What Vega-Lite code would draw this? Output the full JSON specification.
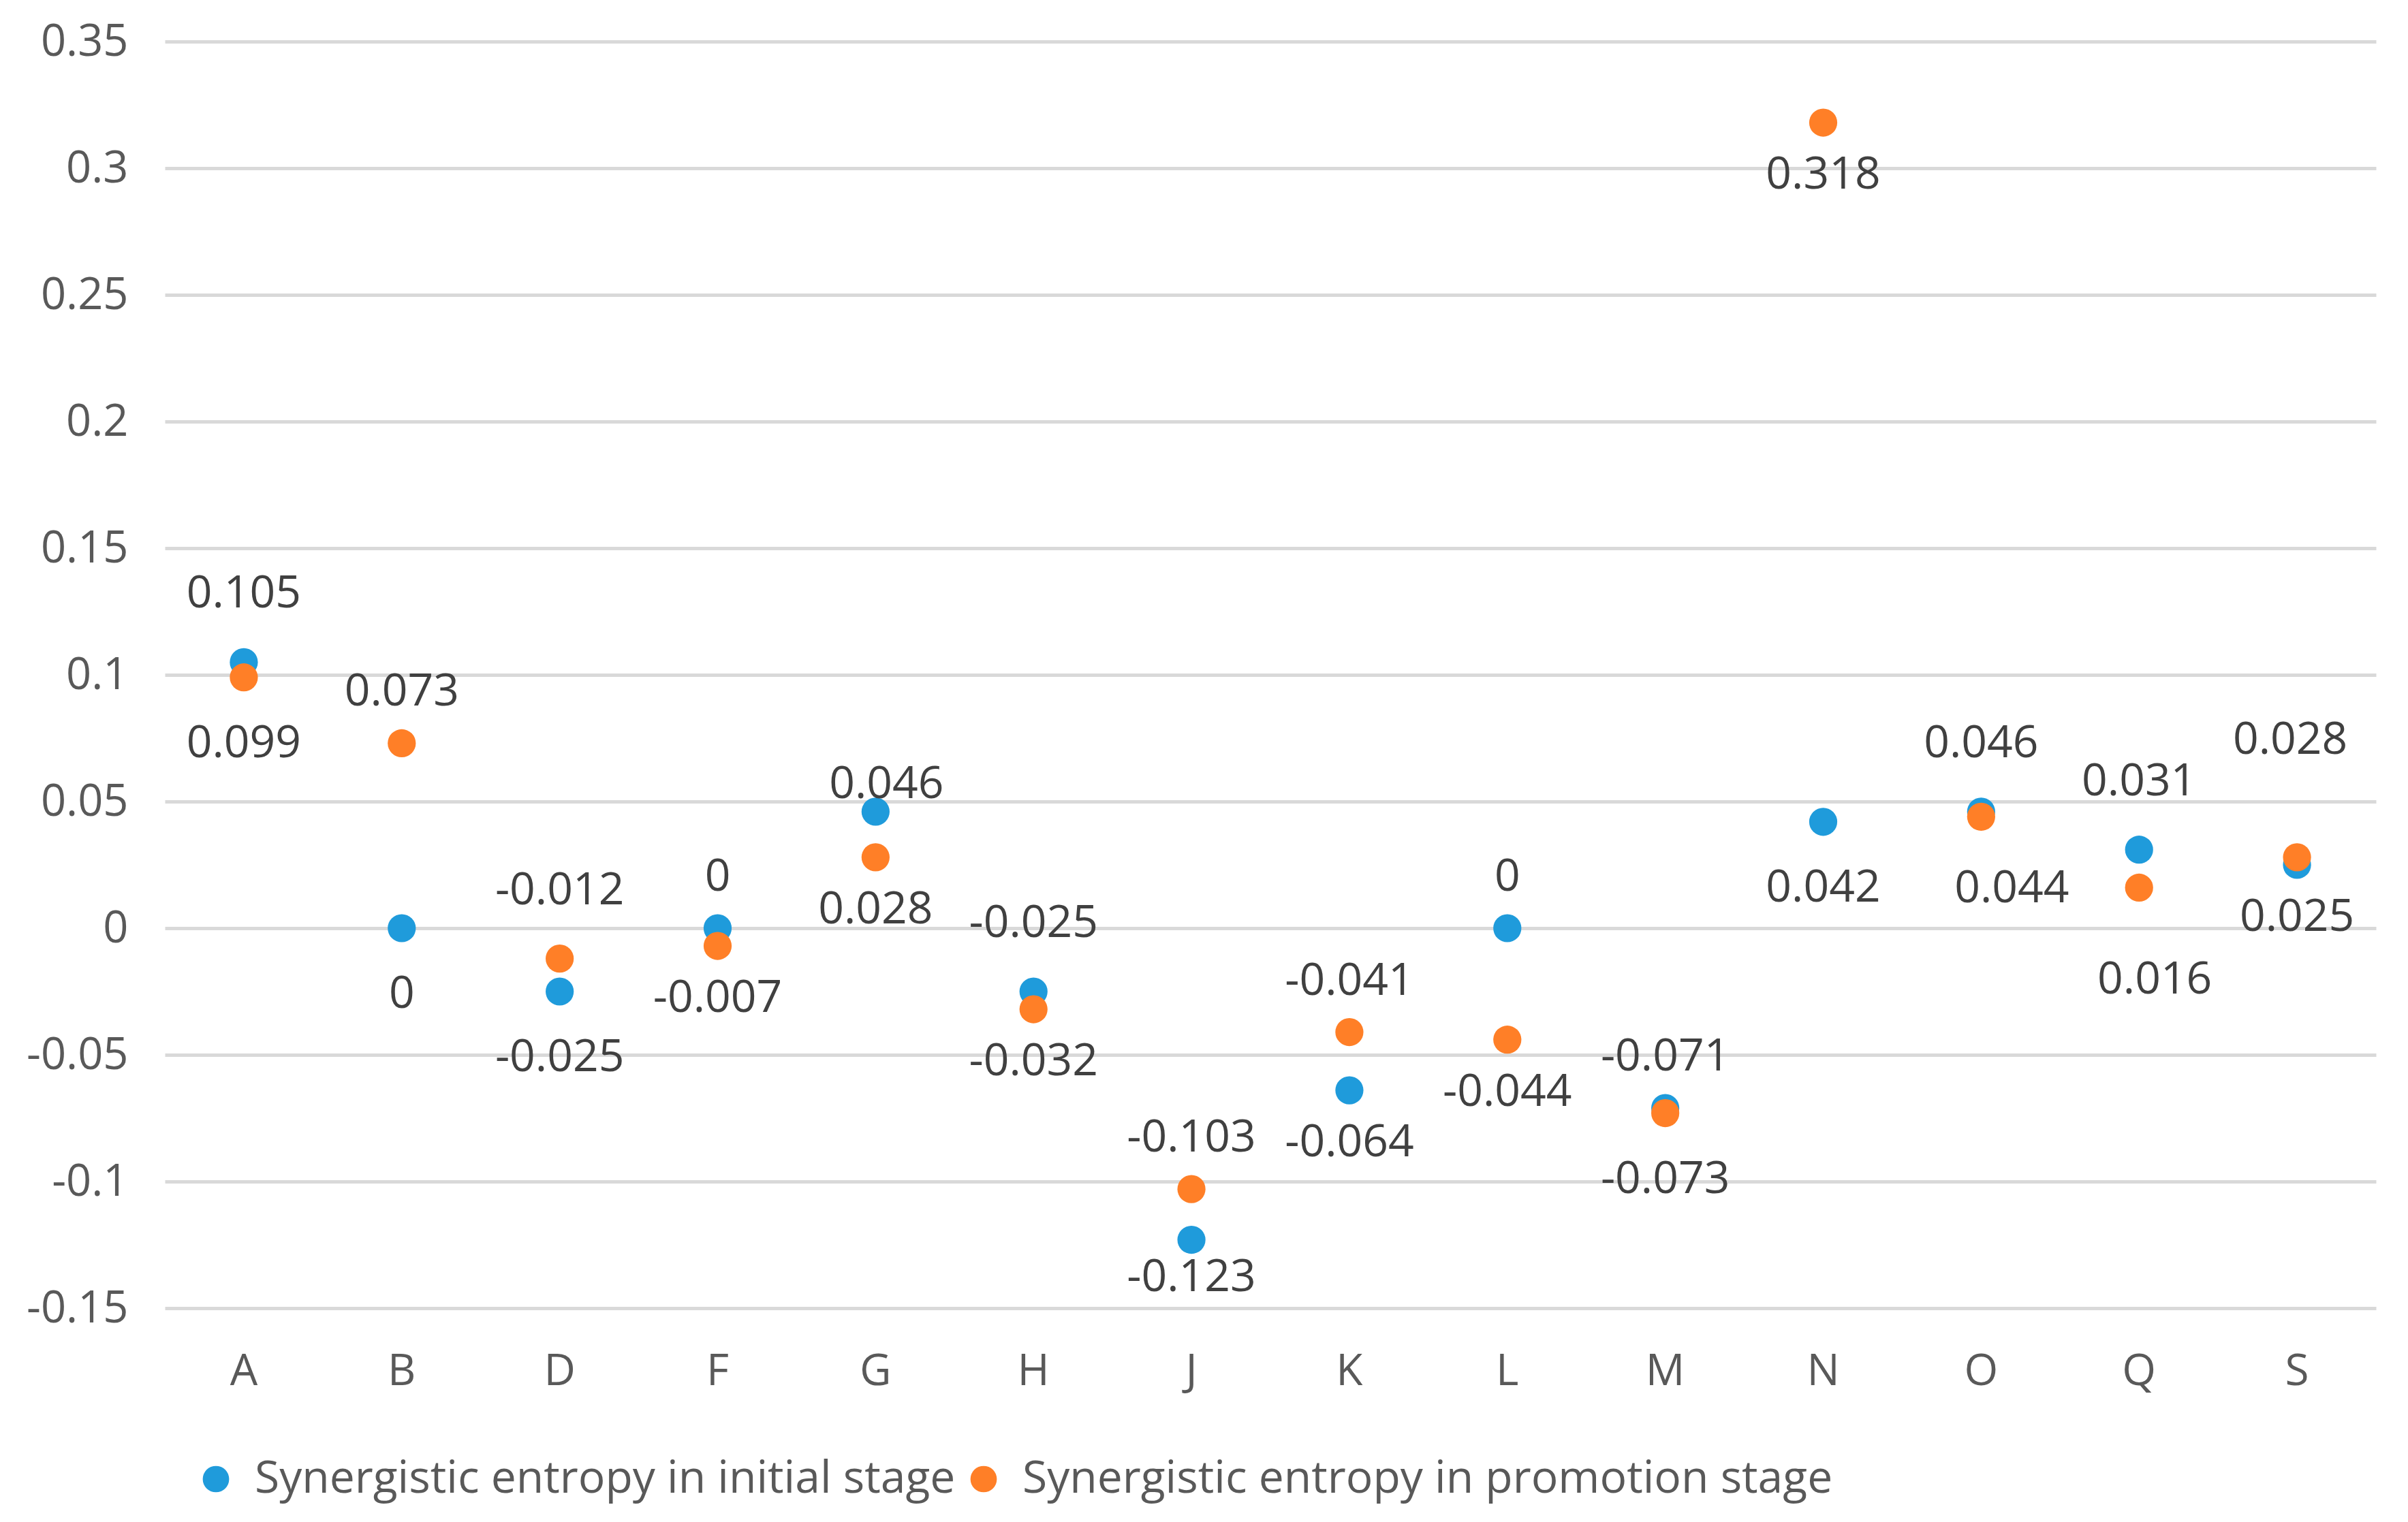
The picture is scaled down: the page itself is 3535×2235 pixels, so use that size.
{
  "$schema": "https://vega.github.io/schema/vega-lite/v6.json",
  "width": 3246,
  "height": 1860,
  "autosize": {"type": "none"},
  "padding": {"left": 242, "top": 61, "right": 47, "bottom": 314},
  "background": "white",
  "config": {
    "view": {"stroke": null},
    "font": "Open Sans",
    "text": {"font": "Open Sans", "fontSize": 66, "color": "#404040", "baseline": "middle", "align": "center"}
  },
  "data": {
    "values": [
      {"cat": "A", "stage": "initial", "value": 0.105},
      {"cat": "B", "stage": "initial", "value": 0},
      {"cat": "D", "stage": "initial", "value": -0.025},
      {"cat": "F", "stage": "initial", "value": 0},
      {"cat": "G", "stage": "initial", "value": 0.046},
      {"cat": "H", "stage": "initial", "value": -0.025},
      {"cat": "J", "stage": "initial", "value": -0.123},
      {"cat": "K", "stage": "initial", "value": -0.064},
      {"cat": "L", "stage": "initial", "value": 0},
      {"cat": "M", "stage": "initial", "value": -0.071},
      {"cat": "N", "stage": "initial", "value": 0.042},
      {"cat": "O", "stage": "initial", "value": 0.046},
      {"cat": "Q", "stage": "initial", "value": 0.031},
      {"cat": "S", "stage": "initial", "value": 0.025},
      {"cat": "A", "stage": "promotion", "value": 0.099},
      {"cat": "B", "stage": "promotion", "value": 0.073},
      {"cat": "D", "stage": "promotion", "value": -0.012},
      {"cat": "F", "stage": "promotion", "value": -0.007},
      {"cat": "G", "stage": "promotion", "value": 0.028},
      {"cat": "H", "stage": "promotion", "value": -0.032},
      {"cat": "J", "stage": "promotion", "value": -0.103},
      {"cat": "K", "stage": "promotion", "value": -0.041},
      {"cat": "L", "stage": "promotion", "value": -0.044},
      {"cat": "M", "stage": "promotion", "value": -0.073},
      {"cat": "N", "stage": "promotion", "value": 0.318},
      {"cat": "O", "stage": "promotion", "value": 0.044},
      {"cat": "Q", "stage": "promotion", "value": 0.016},
      {"cat": "S", "stage": "promotion", "value": 0.028}
    ]
  },
  "encoding": {
    "x": {
      "field": "cat",
      "type": "nominal",
      "sort": null,
      "scale": {"type": "band", "paddingInner": 0, "paddingOuter": 0},
      "axis": {
        "title": null,
        "domain": false,
        "ticks": false,
        "tickSize": 0,
        "grid": false,
        "labelAngle": 0,
        "labelFont": "Open Sans",
        "labelFontSize": 64,
        "labelColor": "#595959",
        "labelBaseline": "middle",
        "labelPadding": 93
      }
    },
    "y": {
      "field": "value",
      "type": "quantitative",
      "scale": {"domain": [-0.15, 0.35], "nice": false, "zero": false},
      "axis": {
        "title": null,
        "domain": false,
        "ticks": false,
        "tickSize": 0,
        "values": [-0.15, -0.1, -0.05, 0, 0.05, 0.1, 0.15, 0.2, 0.25, 0.3, 0.35],
        "labelExpr": "'' + round(datum.value * 100) / 100",
        "labelFont": "Open Sans",
        "labelFontSize": 65,
        "labelColor": "#595959",
        "labelPadding": 54,
        "gridColor": "#D9D9D9",
        "gridWidth": 5,
        "gridOpacity": 1
      }
    }
  },
  "layer": [
    {
      "mark": {"type": "point", "filled": true, "size": 1700, "opacity": 1},
      "encoding": {
        "color": {
          "field": "stage",
          "type": "nominal",
          "scale": {"domain": ["initial", "promotion"], "range": ["#1F9BDB", "#FF7F27"]},
          "legend": {
            "title": null,
            "orient": "none",
            "direction": "horizontal",
            "legendX": 42,
            "legendY": 2078,
            "symbolType": "circle",
            "symbolSize": 1500,
            "symbolStrokeWidth": 0,
            "labelFont": "Open Sans",
            "labelFontSize": 66,
            "labelColor": "#595959",
            "labelOffset": 24,
            "columnPadding": 8,
            "labelLimit": 2000,
            "labelExpr": "'Synergistic entropy in ' + datum.label + ' stage'"
          }
        }
      }
    },
    {
      "transform": [{"filter": "indexof(['initial:G'], datum.stage + ':' + datum.cat) >= 0"}],
      "mark": {"type": "text", "dy": -40, "dx": 16},
      "encoding": {"text": {"field": "value", "type": "nominal"}}
    },
    {
      "transform": [{"filter": "indexof(['initial:F', 'initial:L', 'initial:M', 'promotion:B', 'promotion:J', 'promotion:K'], datum.stage + ':' + datum.cat) >= 0"}],
      "mark": {"type": "text", "dy": -75},
      "encoding": {"text": {"field": "value", "type": "nominal"}}
    },
    {
      "transform": [{"filter": "indexof(['initial:A', 'initial:H', 'initial:O', 'initial:Q', 'promotion:D'], datum.stage + ':' + datum.cat) >= 0"}],
      "mark": {"type": "text", "dy": -100},
      "encoding": {"text": {"field": "value", "type": "nominal"}}
    },
    {
      "transform": [{"filter": "indexof(['promotion:S'], datum.stage + ':' + datum.cat) >= 0"}],
      "mark": {"type": "text", "dy": -172, "dx": -10},
      "encoding": {"text": {"field": "value", "type": "nominal"}}
    },
    {
      "transform": [{"filter": "indexof(['initial:J'], datum.stage + ':' + datum.cat) >= 0"}],
      "mark": {"type": "text", "dy": 55},
      "encoding": {"text": {"field": "value", "type": "nominal"}}
    },
    {
      "transform": [{"filter": "indexof(['initial:K', 'initial:S', 'promotion:F', 'promotion:G', 'promotion:H', 'promotion:L', 'promotion:N'], datum.stage + ':' + datum.cat) >= 0"}],
      "mark": {"type": "text", "dy": 77},
      "encoding": {"text": {"field": "value", "type": "nominal"}}
    },
    {
      "transform": [{"filter": "indexof(['initial:B', 'initial:D', 'initial:N', 'promotion:A', 'promotion:M'], datum.stage + ':' + datum.cat) >= 0"}],
      "mark": {"type": "text", "dy": 97},
      "encoding": {"text": {"field": "value", "type": "nominal"}}
    },
    {
      "transform": [{"filter": "indexof(['promotion:O'], datum.stage + ':' + datum.cat) >= 0"}],
      "mark": {"type": "text", "dy": 106, "dx": 45},
      "encoding": {"text": {"field": "value", "type": "nominal"}}
    },
    {
      "transform": [{"filter": "indexof(['promotion:Q'], datum.stage + ':' + datum.cat) >= 0"}],
      "mark": {"type": "text", "dy": 136, "dx": 23},
      "encoding": {"text": {"field": "value", "type": "nominal"}}
    }
  ]
}
